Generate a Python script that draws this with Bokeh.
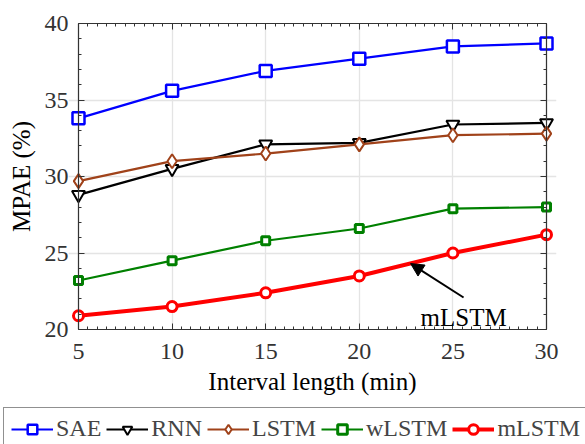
import math
from bokeh.plotting import figure
from bokeh.layouts import column
from bokeh.models import (Legend, LegendItem, LinearAxis, Range1d, Arrow, NormalHead,
                          Label, FixedTicker)
from bokeh.embed import file_html
from bokeh.resources import INLINE

intervals = [5, 10, 15, 20, 25, 30]
sae = [33.8, 35.6, 36.9, 37.7, 38.5, 38.7]
rnn = [28.8, 30.5, 32.1, 32.2, 33.4, 33.5]
lstm = [29.7, 31.0, 31.5, 32.1, 32.7, 32.8]
wlstm = [23.2, 24.5, 25.8, 26.6, 27.9, 28.0]
mlstm = [20.9, 21.5, 22.4, 23.5, 25.0, 26.2]
x_ticks = [5, 10, 15, 20, 25, 30]
y_ticks = [20, 25, 30, 35, 40]
x_minor = [5 + 0.5 * i for i in range(51)]
y_minor = list(range(20, 41))

FONT = "Liberation Serif"
AX = "#333333"
XMIN, XMAX, YMIN, YMAX = 5, 30, 20, 40
PADX = 0.534

p = figure(width=585, height=407, output_backend="svg", toolbar_location=None,
           x_range=Range1d(XMIN - PADX, XMAX + PADX), y_range=Range1d(YMIN, YMAX),
           min_border_left=68, min_border_right=29, min_border_top=23,
           min_border_bottom=78, frame_align=False)
p.background_fill_color = "white"
p.outline_line_color = None


def base(a, ticks, minor):
    a.ticker = FixedTicker(ticks=ticks, minor_ticks=minor)
    a.axis_line_color = AX
    a.axis_line_width = 1.2
    a.major_tick_line_color = AX
    a.minor_tick_line_color = AX
    a.major_tick_in = 6
    a.major_tick_out = 0
    a.minor_tick_in = 3
    a.minor_tick_out = 0


def no_labels(a, ticks):
    a.major_label_overrides = {t: "" for t in ticks}
    a.major_label_standoff = 0


# bottom axis: line, ticks, labels
xa = p.xaxis[0]
base(xa, x_ticks, x_minor)
xa.bounds = (XMIN, XMAX)
xa.major_label_text_font = FONT
xa.major_label_text_font_size = "24px"
xa.major_label_text_color = AX
xa.major_label_standoff = 14
xa.axis_label = "Interval length (min)"
xa.axis_label_text_font = FONT
xa.axis_label_text_font_size = "25px"
xa.axis_label_text_font_style = "normal"
xa.axis_label_text_color = "black"
xa.axis_label_standoff = 6

# left axis: labels only (line/ticks drawn by fixed-location axis)
ya = p.yaxis[0]
ya.ticker = FixedTicker(ticks=y_ticks)
ya.axis_line_color = None
ya.major_tick_line_color = None
ya.minor_tick_line_color = None
ya.major_tick_out = 0
ya.major_tick_in = 0
ya.minor_tick_out = 0
ya.minor_tick_in = 0
ya.major_label_text_font = FONT
ya.major_label_text_font_size = "24px"
ya.major_label_text_color = AX
ya.major_label_standoff = 0
ya.axis_label = "MPAE (%)"
ya.axis_label_text_font = FONT
ya.axis_label_text_font_size = "25px"
ya.axis_label_text_font_style = "normal"
ya.axis_label_text_color = "black"
ya.axis_label_standoff = 7

# top axis
a_top = LinearAxis()
base(a_top, x_ticks, x_minor)
a_top.bounds = (XMIN, XMAX)
no_labels(a_top, x_ticks)
p.add_layout(a_top, "above")

# left box line at x=5 (ticks pointing right into the plot)
a_l = LinearAxis()
base(a_l, y_ticks, y_minor)
a_l.fixed_location = XMIN
a_l.major_tick_in = 0
a_l.major_tick_out = 6
a_l.minor_tick_in = 0
a_l.minor_tick_out = 3
no_labels(a_l, y_ticks)
p.add_layout(a_l, "right")

# right box line at x=30
a_r = LinearAxis()
base(a_r, y_ticks, y_minor)
a_r.fixed_location = XMAX
no_labels(a_r, y_ticks)
p.add_layout(a_r, "right")

p.xgrid.ticker = FixedTicker(ticks=x_ticks)
p.ygrid.ticker = FixedTicker(ticks=y_ticks)
p.ygrid.bounds = (XMIN, XMAX)
p.xgrid.grid_line_color = "#e4e4e4"
p.ygrid.grid_line_color = "#e4e4e4"
p.xgrid.grid_line_width = 1.3
p.ygrid.grid_line_width = 1.3

items = []
series = [
    ("SAE", sae, "#0000ff", "square", 12, 2.2, 2.5),
    ("RNN", rnn, "#000000", "inverted_triangle", 13, 2.2, 2),
    ("LSTM", lstm, "#a0421a", "diamond", 14, 2.2, 2),
    ("wLSTM", wlstm, "#008000", "square", 8, 2.2, 3),
    ("mLSTM", mlstm, "#ff0000", "circle", 10, 4, 3),
]
for name, ys, col, mk, sz, lw, mlw in series:
    p.line(intervals, ys, line_color=col, line_width=lw)
    p.scatter(intervals, ys, marker=mk, size=sz, line_color=col, fill_color="white",
              line_width=mlw)
    items.append((name, col, mk, sz, lw, mlw))

p.add_layout(Arrow(end=NormalHead(size=13, fill_color="black", line_color="black"),
                   x_start=25.57, y_start=22.09, x_end=22.74, y_end=24.31,
                   line_color="black", line_width=2))
p.add_layout(Label(x=25.57, y=20.78, text="mLSTM", text_font=FONT, text_font_size="25px",
                   text_align="center", text_baseline="alphabetic", text_color="black"))

# legend strip
lg = figure(width=585, height=37, output_backend="svg", toolbar_location=None,
            x_range=Range1d(0, 1), y_range=Range1d(0, 1),
            min_border_left=0, min_border_right=0, min_border_top=0, min_border_bottom=0,
            x_axis_location=None, y_axis_location=None, frame_align=False)
lg.outline_line_color = None
lg.xgrid.visible = False
lg.ygrid.visible = False
leg_items = []
for name, col, mk, sz, lw, mlw in items:
    l = lg.line([math.nan], [math.nan], line_color=col, line_width=lw)
    s = lg.scatter([math.nan], [math.nan], marker=mk, size=sz * 0.8, line_color=col,
                   fill_color="white", line_width=mlw)
    leg_items.append(LegendItem(label=name, renderers=[l, s]))

legend = Legend(items=leg_items, orientation="horizontal", location=(3, -6),
                label_text_font=FONT, label_text_font_size="24px",
                label_standoff=3, spacing=5, glyph_width=42, glyph_height=24,
                padding=7, margin=0, border_line_color="#222222", border_line_width=1.5,
                label_height=24)
lg.add_layout(legend, "center")

open("out.html", "w").write(file_html(column(p, lg, spacing=0), INLINE))
